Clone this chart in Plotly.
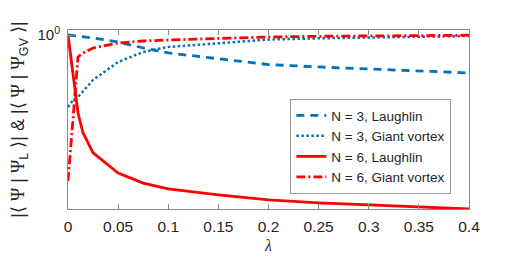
import plotly.graph_objects as go
import math

# lambda grids
lam_n3_laughlin = [0, 0.025, 0.05, 0.075, 0.1, 0.15, 0.2, 0.25, 0.3, 0.35, 0.4]
ovl_n3_laughlin = [1.0, 0.973, 0.937, 0.887, 0.847, 0.801, 0.761, 0.744, 0.730, 0.717, 0.704]

lam_fine = [0, 0.005, 0.01, 0.015, 0.025, 0.05, 0.075, 0.1, 0.15, 0.2, 0.25, 0.3, 0.35, 0.4]
ovl_n3_gv = [0.514, 0.548, 0.564, 0.596, 0.660, 0.779, 0.855, 0.895, 0.929, 0.959, 0.970, 0.978, 0.985, 0.991]
ovl_n6_laughlin = [1.0, 0.691, 0.486, 0.404, 0.336, 0.279, 0.254, 0.241, 0.228, 0.2175, 0.2115, 0.2076, 0.2038, 0.2001]
ovl_n6_gv = [0.259, 0.464, 0.816, 0.847, 0.887, 0.929, 0.946, 0.955, 0.968, 0.982, 0.988, 0.993, 0.996, 0.998]

x_ticks = [0, 0.05, 0.1, 0.15, 0.2, 0.25, 0.3, 0.35, 0.4]
x_tick_labels = ["0", "0.05", "0.1", "0.15", "0.2", "0.25", "0.3", "0.35", "0.4"]
y_ticks = [1]
y_tick_labels = ["10<sup>0</sup>"]

series_names = ["N = 3, Laughlin", "N = 3, Giant vortex", "N = 6, Laughlin", "N = 6, Giant vortex"]

BLUE = "#0072BD"
RED = "#FF0000"
FONT = "Arial, Liberation Sans, sans-serif"

fig = go.Figure()
fig.add_trace(go.Scatter(x=lam_n3_laughlin, y=ovl_n3_laughlin, mode="lines", name=series_names[0],
                         line=dict(color=BLUE, width=2.8, dash="8px,6px")))
fig.add_trace(go.Scatter(x=lam_fine, y=ovl_n3_gv, mode="lines", name=series_names[1],
                         line=dict(color=BLUE, width=2.5, dash="2.5px,2.5px")))
fig.add_trace(go.Scatter(x=lam_fine, y=ovl_n6_laughlin, mode="lines", name=series_names[2],
                         line=dict(color=RED, width=2.8)))
fig.add_trace(go.Scatter(x=lam_fine, y=ovl_n6_gv, mode="lines", name=series_names[3],
                         line=dict(color=RED, width=2.8, dash="9px,3px,2px,3px")))

psi = '<span style="font-family:Liberation Serif, serif">Ψ</span>'
ytitle = f"|⟨ {psi} | {psi}<sub>L</sub> ⟩| & |⟨ {psi} | {psi}<sub>GV</sub> ⟩|"

fig.update_layout(
    width=518, height=262,
    margin=dict(l=60, r=57, t=22, b=61),
    paper_bgcolor="white", plot_bgcolor="white",
    font=dict(family=FONT, color="#262626", size=14),
    showlegend=True,
    legend=dict(x=0.956, xanchor="right", y=0.6145, yanchor="top",
                bgcolor="white", bordercolor="#999999", borderwidth=1,
                font=dict(size=13.5, family=FONT, color="#262626"),
                itemwidth=30, tracegroupgap=0),
)
fig.update_xaxes(range=[0, 0.4], tickvals=x_ticks, ticktext=x_tick_labels,
                 ticks="inside", ticklen=5, tickcolor="#8c8c8c", ticklabelstandoff=3,
                 showline=True, linecolor="#8c8c8c", linewidth=1, mirror="ticks",
                 showgrid=False, zeroline=False, automargin=False,
                 tickfont=dict(size=15.5, family=FONT, color="#262626"),
                 title=dict(text="<i>λ</i>", font=dict(size=16, family="Liberation Serif, serif"), standoff=6))
fig.update_yaxes(type="log", range=[math.log10(0.2), 0.0201], tickvals=y_ticks, ticktext=y_tick_labels,
                 ticks="inside", ticklen=5, tickcolor="#8c8c8c", ticklabelstandoff=4,
                 showline=True, linecolor="#8c8c8c", linewidth=1, mirror=True,
                 showgrid=False, zeroline=False, automargin=False,
                 tickfont=dict(size=15, family=FONT, color="#262626"),
                 title=dict(text=ytitle, font=dict(size=18, family=FONT), standoff=10))

fig.write_html("out.html")
